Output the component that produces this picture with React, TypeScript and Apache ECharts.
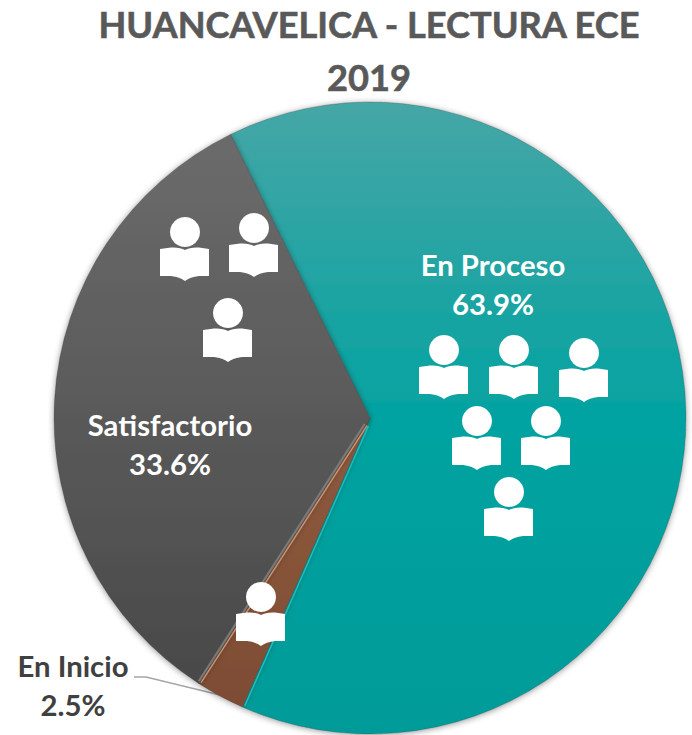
import React, { useEffect, useRef } from "react";
import * as echarts from "echarts";

const categories = ["En Proceso", "En Inicio", "Satisfactorio"];
const values = [63.9, 2.5, 33.6];
const titleText = "HUANCAVELICA - LECTURA ECE\n2019";
const iconCenters = [
  [185, 232], [254, 228], [228, 313],
  [444, 350], [514, 350], [584, 353],
  [477, 421], [546, 421], [509, 492],
  [261, 597],
];
const labelCenters = [[493, 284], [73, 685], [170, 444]];

const CX = 370, CY = 418, R = 316, START = 116.2;
const FONT = "Lato";

echarts.graphic.registerShape(
  "bookShape",
  echarts.graphic.extendPath(
    "M-25 17 L-14 15.5 Q-5 15 0 18 Q5 15 14 15.5 L24 17 L24 44 L14 44 Q5 45 0 49 Q-5 45 -14 44 L-25 44 Z",
    {}
  )
);

function vGrad(stops: [number, string][]) {
  return new echarts.graphic.LinearGradient(0, 0, 0, 1, stops.map(([offset, color]) => ({ offset, color })));
}

function edgeLine(pct: number, shift: number, color: string, width: number) {
  const a = ((START - (pct / 100) * 360) * Math.PI) / 180;
  const ux = Math.cos(a), uy = -Math.sin(a);
  const nx = -uy, ny = ux;
  return {
    type: "line",
    z: 50,
    silent: true,
    shape: {
      x1: CX + ux * 8 + nx * shift,
      y1: CY + uy * 8 + ny * shift,
      x2: CX + ux * (R - 2) + nx * shift,
      y2: CY + uy * (R - 2) + ny * shift,
    },
    style: { stroke: color, lineWidth: width, opacity: 0.9 },
  };
}

export default function App() {
  const ref = useRef<HTMLDivElement>(null);
  useEffect(() => {
    const chart = echarts.init(ref.current!, undefined, { renderer: "svg" });
    const fills = [
      vGrad([[0, "#46a6a6"], [0.5, "#03a3a1"], [1, "#009b98"]]),
      vGrad([[0, "#8f5b3e"], [1, "#7d4c33"]]),
      vGrad([[0, "#6b6b6b"], [1, "#494949"]]),
    ];
    const labelColors = ["#ffffff", "#404040", "#ffffff"];
    const b1 = values[0];
    const b2 = values[0] + values[1];
    chart.setOption({
      animation: false,
      title: {
        text: titleText,
        left: 364,
        top: -8,
        textAlign: "center",
        textStyle: {
          fontFamily: FONT,
          fontSize: 36.2,
          fontWeight: "bold",
          color: "#595959",
          lineHeight: 53,
          textBorderColor: "#595959",
          textBorderWidth: 0.6,
        },
      },
      series: [
        {
          type: "pie",
          center: [CX, CY],
          radius: [0, R],
          startAngle: START,
          clockwise: true,
          percentPrecision: 1,
          silent: true,
          avoidLabelOverlap: false,
          data: categories.map((name, i) => ({
            name,
            value: values[i],
            itemStyle: { color: fills[i] },
            label: { color: labelColors[i], position: i === 1 ? "outside" : "inside" },
            labelLine: { show: i === 1 },
          })),
          itemStyle: {
            borderColor: "rgba(60,60,60,0.35)",
            borderWidth: 0.8,
            shadowBlur: 6,
            shadowColor: "rgba(0,0,0,0.4)",
            shadowOffsetY: 1,
          },
          label: {
            show: true,
            formatter: "{b}\n{d}%",
            fontFamily: FONT,
            fontSize: 29.3,
            fontWeight: "bold",
            lineHeight: 39,
            align: "center",
          },
          labelLine: { show: false, lineStyle: { color: "#a6a6a6", width: 1.5 } },
          labelLayout: (p: any) => {
            const [x, y] = labelCenters[p.dataIndex];
            const out: any = { x, y, align: "center", verticalAlign: "middle" };
            if (p.dataIndex === 1) {
              out.labelLinePoints = [[134, 677], [146, 677], [220, 695]];
            }
            return out;
          },
        },
      ],
      graphic: [
        edgeLine(b1, -1.8, "#22c0c0", 1.6),
        edgeLine(b2, -1.6, "#cf9c7c", 1.5),
        edgeLine(b2, 1.2, "#808080", 2),
        ...iconCenters.map(([x, y]) => ({
          type: "group",
          x,
          y,
          silent: true,
          children: [
            { type: "circle", z: 100, shape: { cx: 0, cy: 0, r: 15 }, style: { fill: "#ffffff" } },
            { type: "bookShape", z: 100, style: { fill: "#ffffff" } },
          ],
        })),
      ],
    });
    return () => chart.dispose();
  }, []);
  return <div ref={ref} style={{ position: "absolute", left: 0, top: 0, width: 692, height: 735 }} />;
}
